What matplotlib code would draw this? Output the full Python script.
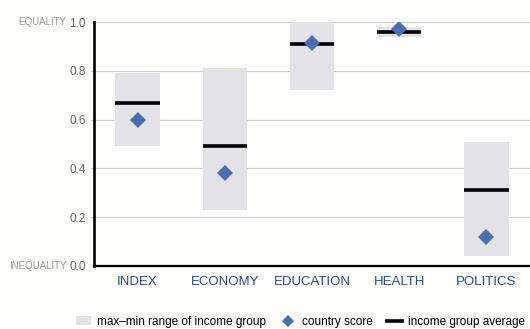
import matplotlib.pyplot as plt
from matplotlib.lines import Line2D
from matplotlib.patches import Patch

categories = ["INDEX", "ECONOMY", "EDUCATION", "HEALTH", "POLITICS"]
range_min = [0.49, 0.23, 0.72, 0.94, 0.04]
range_max = [0.79, 0.81, 1.00, 0.98, 0.51]
group_avg = [0.67, 0.49, 0.91, 0.96, 0.31]
country = [0.60, 0.38, 0.915, 0.97, 0.12]

box_col = "#e3e3e7"
dia_col = "#4a6eb0"
label_col = "#2c4a82"

plt.rcParams["font.family"] = ["Liberation Sans", "DejaVu Sans"]

fig = plt.figure(figsize=(5.30, 3.29), dpi=100)
fig.patch.set_facecolor("#fdfdfb")
ax = fig.add_axes([0.1774, 0.1915, 0.8226, 0.7416])
ax.set_facecolor("#fdfdfb")

x = list(range(len(categories)))
ax.bar(x, [hi - lo for lo, hi in zip(range_min, range_max)], bottom=range_min,
       width=0.51, color=box_col, zorder=2)
ax.hlines(group_avg, [i - 0.255 for i in x], [i + 0.255 for i in x],
          color="black", linewidth=2.6, zorder=3)
ax.plot(x, country, linestyle="none", marker="D", markersize=8.5,
        color=dia_col, markeredgewidth=0, zorder=4)

ax.set_xlim(-0.5, 4.5)
ax.set_ylim(0, 1.0)
ax.set_yticks([0, 0.2, 0.4, 0.6, 0.8, 1.0])
ax.set_yticklabels(["0.0", "0.2", "0.4", "0.6", "0.8", "1.0"])
ax.yaxis.grid(True, color="#cfcfcf", linewidth=0.8, zorder=0)
ax.set_axisbelow(True)
ax.set_xticks(x)
ax.set_xticklabels(categories)

for s in ["top", "right"]:
    ax.spines[s].set_visible(False)
ax.spines["left"].set_linewidth(1.9)
ax.spines["bottom"].set_linewidth(1.6)

ax.tick_params(axis="y", length=2, color="#cccccc", pad=4, labelsize=8.5,
               labelcolor="#666666")
ax.tick_params(axis="x", length=0, pad=7, labelsize=9.5, labelcolor=label_col)

for val, txt in [(1.0, "EQUALITY"), (0.0, "INEQUALITY")]:
    ax.annotate(txt, xy=(0, val), xycoords=("axes fraction", "data"),
                xytext=(-20, 0), textcoords="offset points", ha="right",
                va="center", fontsize=7, color="#9a9a9a")

handles = [
    Patch(facecolor=box_col, edgecolor="none", label="max\u2013min range of income group"),
    Line2D([], [], linestyle="none", marker="D", markersize=6, color=dia_col,
           markeredgewidth=0, label="country score"),
    Line2D([], [], color="black", linewidth=2.6, label="income group average"),
]
fig.legend(handles=handles, loc="center", bbox_to_anchor=(0.567, 0.022), ncol=3,
           frameon=False, fontsize=8.5, handlelength=1.3, handleheight=0.7,
           columnspacing=1.2, handletextpad=0.5)

fig.savefig("out.png", dpi=100, facecolor=fig.get_facecolor())
